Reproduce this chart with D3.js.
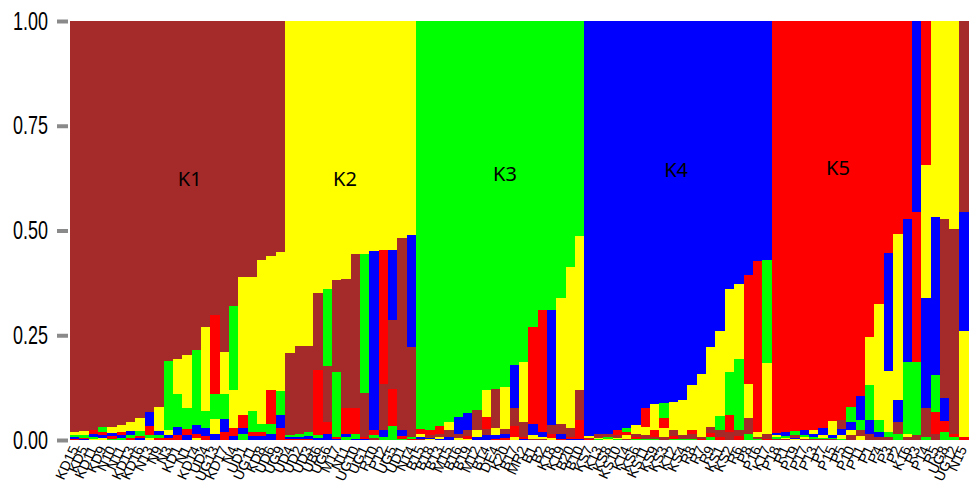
<!DOCTYPE html>
<html><head><meta charset="utf-8">
<script src="https://cdn.jsdelivr.net/npm/d3@7/dist/d3.min.js"></script>
<style>
html,body{margin:0;padding:0;background:#fff;}
svg{display:block;}
</style></head>
<body><svg id="chart" width="972" height="496"></svg>
<script>
const labels = ["KD15","KD5","KD11","KD9","N10","N11","KD13","KD16","N13","N9",
"N3","KD1","N1","KD14","UD4","UG13","KD17","N4","UD1","UG11",
"KD8","UD6","UG9","UD4","UD2","UD3","UB6","UG6","M17","N11",
"UG10","UG1","R10","P12","UG5","UD1","N14","B15","B18","B13",
"M15","B16","B19","M12","B14","DE4","K20","B17","MR2","B1",
"B2","K18","K19","B20","B10","KS7","K13","KS8","KS10","K14",
"KS6","KS11","KS9","KS3","K12","KS4","R8","R7","R9","KS1",
"KS2","R6","P8","P16","K17","P18","R1","P19","P17","P13",
"P7","P15","P5","P10","P11","P1","P4","P3","P2","K16",
"R3","P14","R5","UG8","UG12","N15"];

const clusterNames = ["K1","K2","K3","K4","K5"];
const clusterColors = ["#A52A2A","#FFFF00","#00FF00","#0000FF","#FF0000"];

const K1 = [.98,.978,.975,.968,.968,.963,.956,.947,.932,.92,
.811,.805,.797,.785,.73,.70,.79,.68,.61,.61,
.57,.56,.551,.197,.209,.205,.185,.133,.22,.31,
.368,.105,.006,.11,.165,.459,.215,.002,.006,.008,
.016,.01,.014,.048,.016,.093,.012,.044,.036,.004,
.004,.021,.024,.022,.072,.003,.008,.006,.006,.004,
.008,.008,.006,.008,.014,.008,.01,.005,.014,.016,
.02,.014,.039,.005,.012,.003,.002,.006,.003,.003,
.002,.002,.02,.012,.014,.016,.008,.008,.028,.008,
.012,.068,.016,.426,.488,.456];
const K2 = [.008,.01,.004,.006,.014,.017,.021,.031,.006,.057,
.012,.084,.127,.006,.2,.035,.1,.09,.33,.32,
.39,.32,.331,.791,.775,.775,.648,.64,.617,.614,
.556,.555,.548,.545,.545,.517,.511,.007,.003,.004,
.02,.006,.002,.016,.065,.018,.099,.008,.143,.008,
.004,.005,.302,.384,.367,.004,.004,.002,.004,.008,
.02,.02,.062,.022,.068,.085,.109,.151,.191,.204,
.197,.179,.082,.012,.169,.005,.003,.002,.004,.01,
.006,.034,.008,.012,.01,.116,.276,.145,.397,.008,
0,.316,.467,.473,.496,.252];
const K3 = [.005,.006,.005,.012,.004,.006,.007,.011,.006,.008,
.164,.08,.048,.179,.04,.06,.06,.2,.015,.05,
.02,.025,.058,.005,.007,.01,.007,.183,.155,.008,
.012,.332,.006,.008,.033,.004,.005,.973,.975,.967,
.956,.944,.934,.928,.879,.877,.873,.821,.813,.73,
.688,.688,.66,.586,.512,.001,.002,.004,.002,.009,
.002,.004,.002,.035,.004,.002,.004,.001,.008,.033,
.103,.168,.014,.003,.246,.004,.005,.01,.006,.004,
.004,.004,.004,.036,.025,.083,.029,.012,.016,.171,
.175,.008,.087,.02,.008,0];
const K4 = [.004,.003,.006,.006,.008,.006,.01,.005,.034,.01,
.008,.018,.012,.02,.02,.015,.03,.01,.015,.01,
.01,.015,.031,.004,.005,.006,.005,.014,.003,.008,
.004,.004,.428,.016,.167,.014,.266,.005,.003,.003,
.008,.04,.042,.008,.012,.008,.01,.101,.003,.026,
.012,.276,.01,.003,.004,.99,.986,.986,.976,.971,
.964,.923,.914,.911,.908,.903,.867,.841,.777,.739,
.64,.628,.606,.571,.569,.006,.01,.004,.012,.008,
.017,.006,.016,.02,.056,.032,.012,.283,.051,.342,
.456,.264,.378,.055,0,.284];
const K5 = [.003,.003,.01,.008,.006,.008,.006,.006,.022,.005,
.005,.013,.016,.01,.01,.19,.02,.02,.03,.01,
.01,.08,.029,.003,.004,.004,.155,.03,.005,.06,
.06,.004,.012,.321,.09,.006,.003,.013,.013,.018,
0,0,.008,0,.028,.004,.006,.026,.005,.232,
.292,.01,.004,.005,.045,.002,0,.002,.012,.008,
.006,.045,.016,.024,.006,.002,.01,.002,.01,.008,
.04,.011,.259,.409,.004,.982,.98,.978,.975,.975,
.971,.954,.952,.92,.895,.753,.675,.552,.508,.471,
.357,.344,.052,.026,.008,.008];

const yTicks = [0, 0.25, 0.5, 0.75, 1];
// cluster label anchor: bar position (in bar units) and level
const clusterLabelBars = [12.8, 29.4, 46.5, 64.8, 82.1];
const clusterLabelLevels = [0.62, 0.62, 0.63, 0.64, 0.645];

const series = [K1, K2, K3, K4, K5];
const svg = d3.select("#chart");
const margin = {left:70, right:4, top:21, bottom:56};
const W = 972, H = 496;

const x = d3.scaleBand().domain(d3.range(labels.length)).range([margin.left, W - margin.right]).padding(0);
const y = d3.scaleLinear().domain([0,1]).range([H - margin.bottom, margin.top]);

// Build stacked segments, ascending within each bar
const bars = labels.map((lab, i) => {
  const vals = series.map((s, k) => ({k, v: s[i]}));
  const total = d3.sum(vals, d => d.v);
  vals.forEach(d => d.v = d.v / total);
  const sorted = vals.slice().sort((a, b) => a.v - b.v);
  let cum = 0;
  const segs = [];
  sorted.forEach(d => {
    if (d.v > 0) segs.push({i, k: d.k, y0: cum, y1: cum + d.v});
    cum += d.v;
  });
  segs[segs.length - 1].y1 = 1;
  return segs;
});

const g = svg.append("g").attr("shape-rendering", "crispEdges");
g.selectAll("g.bar").data(bars).join("g").attr("class","bar")
  .selectAll("rect").data(d => d).join("rect")
  .attr("x", d => x(d.i))
  .attr("width", x.bandwidth() + 0.5)
  .attr("y", d => y(d.y1))
  .attr("height", d => y(d.y0) - y(d.y1) + 0.3)
  .attr("fill", d => clusterColors[d.k]);

// Y axis
const yAxis = d3.axisLeft(y).tickValues(yTicks).tickFormat(d3.format(".2f")).tickSize(11).tickPadding(9);
const ya = svg.append("g").attr("transform", `translate(${margin.left - 2},0)`).call(yAxis);
ya.select(".domain").remove();
ya.selectAll(".tick line").attr("stroke", "#8a8a8a").attr("stroke-width", 4);
ya.selectAll(".tick text")
  .attr("font-family", "'Liberation Sans',Arial,sans-serif")
  .attr("font-size", 25).attr("fill", "#000")
  .attr("textLength", 35).attr("lengthAdjust", "spacingAndGlyphs");

// X labels
svg.append("g").selectAll("text").data(labels).join("text")
  .attr("transform", (d, i) => `translate(${x(i) + x.bandwidth()/2 + 4},${H - margin.bottom + 9}) rotate(-65)`)
  .attr("text-anchor", "end")
  .attr("font-family", "'Liberation Sans',Arial,sans-serif")
  .attr("font-size", 14)
  .attr("fill", "#000")
  .text(d => d);

// Cluster labels
svg.append("g").selectAll("text").data(clusterNames).join("text")
  .attr("x", (d, i) => x(0) + clusterLabelBars[i] * x.step())
  .attr("y", (d, i) => y(clusterLabelLevels[i]))
  .attr("text-anchor", "middle")
  .attr("dominant-baseline", "middle")
  .attr("font-family", "'Noto Sans','Open Sans',sans-serif")
  .attr("font-size", 20)
  .attr("fill", "#000")
  .text(d => d);
</script>
</body></html>
